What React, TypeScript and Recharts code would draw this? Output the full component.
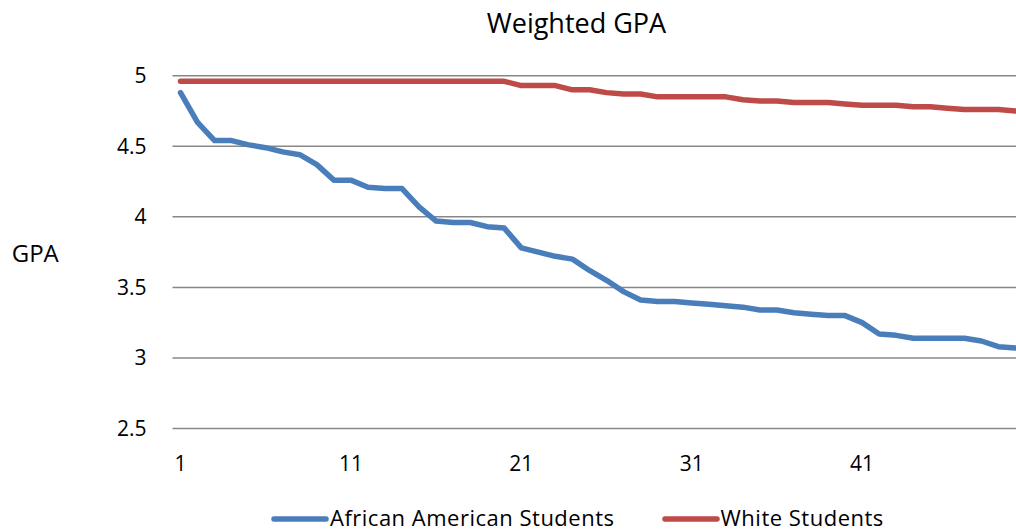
import React from "react";
import { LineChart, Line, XAxis, YAxis, CartesianGrid, Legend } from "recharts";

const students = [
  1, 2, 3, 4, 5, 6, 7, 8, 9, 10, 11, 12, 13, 14, 15, 16, 17, 18, 19, 20, 21, 22, 23, 24, 25,
  26, 27, 28, 29, 30, 31, 32, 33, 34, 35, 36, 37, 38, 39, 40, 41, 42, 43, 44, 45, 46, 47, 48, 49, 50,
];

const africanAmerican = [
  4.88, 4.67, 4.54, 4.54, 4.51, 4.49, 4.46, 4.44, 4.37, 4.26,
  4.26, 4.21, 4.2, 4.2, 4.07, 3.97, 3.96, 3.96, 3.93, 3.92,
  3.78, 3.75, 3.72, 3.7, 3.62, 3.55, 3.47, 3.41, 3.4, 3.4,
  3.39, 3.38, 3.37, 3.36, 3.34, 3.34, 3.32, 3.31, 3.3, 3.3,
  3.25, 3.17, 3.16, 3.14, 3.14, 3.14, 3.14, 3.12, 3.08, 3.07,
];

const white = [
  4.96, 4.96, 4.96, 4.96, 4.96, 4.96, 4.96, 4.96, 4.96, 4.96,
  4.96, 4.96, 4.96, 4.96, 4.96, 4.96, 4.96, 4.96, 4.96, 4.96,
  4.93, 4.93, 4.93, 4.9, 4.9, 4.88, 4.87, 4.87, 4.85, 4.85,
  4.85, 4.85, 4.85, 4.83, 4.82, 4.82, 4.81, 4.81, 4.81, 4.8,
  4.79, 4.79, 4.79, 4.78, 4.78, 4.77, 4.76, 4.76, 4.76, 4.75,
];

const gpaTicks = [2.5, 3, 3.5, 4, 4.5, 5];

const data = students.map((s, i) => ({
  student: s,
  aa: africanAmerican[i],
  white: white[i],
}));

const FONT = "'Open Sans', sans-serif";

function LegendContent({ payload }: any) {
  return (
    <div style={{ display: "flex", alignItems: "center", fontFamily: FONT, fontSize: 22, lineHeight: "22px", letterSpacing: "0.5px", whiteSpace: "nowrap" }}>
      {(payload || []).map((p: any, i: number) => (
        <span key={i} style={{ display: "inline-flex", alignItems: "center", marginRight: i === 0 ? 47 : 0 }}>
          <svg width={58} height={10} style={{ display: "block", marginTop: 5 }}>
            <line x1={3} x2={55} y1={5} y2={5} stroke={p.color} strokeWidth={5.5} strokeLinecap="round" />
          </svg>
          <span style={{ color: "#000", marginLeft: 1 }}>{p.value}</span>
        </span>
      ))}
    </div>
  );
}

export default function App() {
  return (
    <div style={{ position: "absolute", left: 0, top: 0, width: 1016, height: 532, overflow: "hidden", background: "#fff", fontFamily: FONT }}>
      <div style={{ position: "absolute", left: 376.5, top: 9.3, width: 400, textAlign: "center", fontSize: 27, lineHeight: "27px", color: "#000" }}>
        Weighted GPA
      </div>
      <div style={{ position: "absolute", left: 11.7, top: 240.7, fontSize: 24, lineHeight: "24px", color: "#000" }}>
        GPA
      </div>
      <div style={{ position: "absolute", left: 0, top: 0 }}>
        <LineChart width={1030} height={532} data={data} margin={{ top: 75.7, right: 6.5, bottom: 0, left: 0 }}>
          <CartesianGrid vertical={false} stroke="#878787" strokeWidth={1.5} />
          <XAxis
            dataKey="student"
            interval={9}
            padding={{ left: 8, right: 8 }}
            height={103.5}
            tickSize={0}
            tickMargin={27.3}
            axisLine={false}
            tickLine={false}
            tick={{ fill: "#000", fontSize: 21, fontFamily: FONT }}
          />
          <YAxis
            domain={[2.5, 5]}
            ticks={gpaTicks}
            width={172.5}
            tickSize={0}
            tickMargin={26}
            axisLine={false}
            tickLine={false}
            tick={{ fill: "#000", fontSize: 21, fontFamily: FONT }}
          />
          <Legend
            verticalAlign="middle"
            align="center"
            layout="horizontal"
            wrapperStyle={{ top: 505.5, left: 271, width: "auto" }}
            content={<LegendContent />}
          />
          <Line
            name="African American Students"
            dataKey="aa"
            type="linear"
            stroke="#4A7EBB"
            strokeWidth={5.5}
            strokeLinecap="round"
            strokeLinejoin="round"
            dot={false}
            activeDot={false}
            isAnimationActive={false}
          />
          <Line
            name="White Students"
            dataKey="white"
            type="linear"
            stroke="#BE4B48"
            strokeWidth={5.5}
            strokeLinecap="round"
            strokeLinejoin="round"
            dot={false}
            activeDot={false}
            isAnimationActive={false}
          />
        </LineChart>
      </div>
    </div>
  );
}
